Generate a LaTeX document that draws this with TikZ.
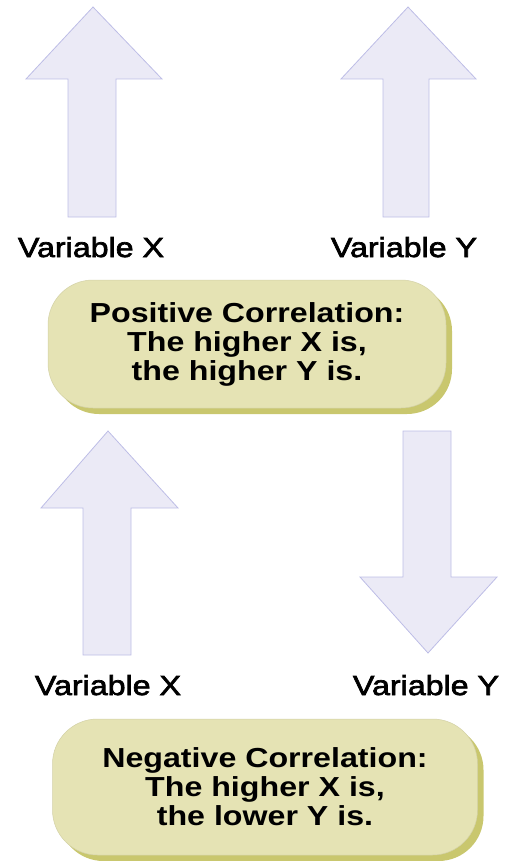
\documentclass[tikz,border=0pt]{standalone}
\usepackage{fontspec}
\setmainfont{Liberation Sans}[FakeStretch=1.17]
\newfontfamily\labelfont{Liberation Sans}[FakeStretch=1.17,FakeBold=2.5]
\usetikzlibrary{shadows}
\definecolor{figlavender}{HTML}{EBEAF6}
\definecolor{figlavedge}{HTML}{BDBDE6}
\definecolor{figcream}{HTML}{E5E3B4}
\definecolor{figolive}{HTML}{C9C76E}
\tikzset{
  bigarrow/.style={fill=figlavender,draw=figlavedge,line width=0.8pt,line join=miter},
  varlabel/.style={anchor=base,inner sep=0pt,font=\labelfont\fontsize{27.5}{30}\selectfont},
  corrbox/.style={fill=figcream,draw=figcream!92!black,line width=0.5pt,rounded corners=45pt,
    align=center,inner sep=0pt,font=\bfseries\fontsize{27.5}{29}\selectfont,
    drop shadow={shadow xshift=6pt,shadow yshift=-6pt,fill=figolive,opacity=1}}
}

\begin{document}
\begin{tikzpicture}[x=1pt,y=-1pt]
    \useasboundingbox (0,0) rectangle (510,861);
    % positive correlation: both up
    \draw[bigarrow] (93,7) -- (162,79) -- (116,79) -- (116,217) -- (68,217) -- (68,79) -- (26,79) -- cycle;
    \draw[bigarrow] (408,7) -- (476,79) -- (429,79) -- (429,217) -- (383,217) -- (383,79) -- (341,79) -- cycle;
    \node[varlabel] (posx) at (91,257) {Variable X};
    \node[varlabel] (posy) at (404,257) {Variable Y};
    \node[corrbox,minimum width=398pt,minimum height=128pt] (poscorr) at (247,344)
      {Positive Correlation:\\The higher X is,\\the higher Y is.};
    % negative correlation: X up, Y down
    \draw[bigarrow] (108,431) -- (178,508) -- (131,508) -- (131,655) -- (83,655) -- (83,508) -- (41,508) -- cycle;
    \draw[bigarrow] (428,653) -- (497,577) -- (451,577) -- (451,431) -- (403,431) -- (403,577) -- (360,577) -- cycle;
    \node[varlabel] (negx) at (108,695) {Variable X};
    \node[varlabel] (negy) at (426,695) {Variable Y};
    \node[corrbox,minimum width=425pt,minimum height=136pt] (negcorr) at (265,787)
      {Negative Correlation:\\The higher X is,\\the lower Y is.};
  \end{tikzpicture}
\end{document}
